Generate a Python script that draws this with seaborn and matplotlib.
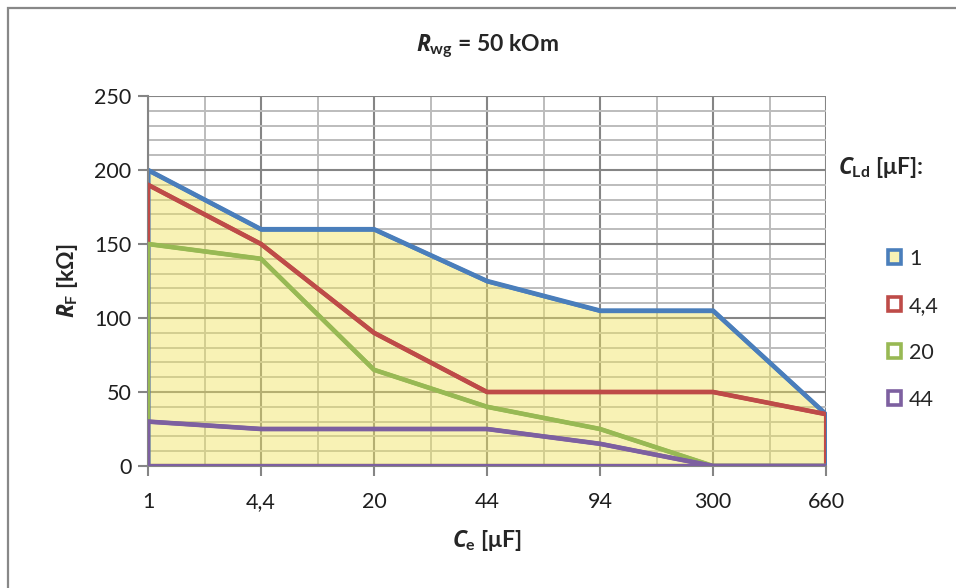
import numpy as np
import pandas as pd
import matplotlib
matplotlib.use("Agg")
import matplotlib.pyplot as plt
from matplotlib.patches import Patch, Rectangle
from matplotlib.ticker import MultipleLocator
import seaborn as sns

# Capacitance Ce [µF] categories on the x axis
ce_labels = ["1", "4,4", "20", "44", "94", "300", "660"]
# Filter resistance RF [kΩ] for each load capacitance CLd [µF]
rf_cld_1 = [200, 160, 160, 125, 105, 105, 35]
rf_cld_4_4 = [190, 150, 90, 50, 50, 50, 35]
rf_cld_20 = [150, 140, 65, 40, 25, 0, 0]
rf_cld_44 = [30, 25, 25, 25, 15, 0, 0]
series_names = ["1", "4,4", "20", "44"]
series_values = [rf_cld_1, rf_cld_4_4, rf_cld_20, rf_cld_44]

colors = ["#4A7EBB", "#BE4B48", "#98B954", "#7D60A0"]
area_face = (0.94, 0.89, 0.36, 0.45)

sns.set_theme(style="white")
plt.rcParams["font.family"] = ["Lato", "DejaVu Sans"]
plt.rcParams["mathtext.fontset"] = "custom"
plt.rcParams["mathtext.rm"] = "Lato:bold"
plt.rcParams["mathtext.it"] = "Open Sans:italic:bold"
plt.rcParams["mathtext.bf"] = "Lato:bold"

rows = []
for name, vals in zip(series_names, series_values):
    for i, v in enumerate(vals):
        rows.append({"pos": i, "Ce": ce_labels[i], "RF": v, "CLd": name})
df = pd.DataFrame(rows)

fig = plt.figure(figsize=(9.56, 5.88), dpi=100)
ax = fig.add_axes([148 / 956, 1 - 466 / 588, 678 / 956, 370 / 588])

# Gridlines: minor every 10 kΩ / between categories, major every 50 kΩ / at categories
ax.set_axisbelow(True)
ax.yaxis.set_major_locator(MultipleLocator(50))
ax.yaxis.set_minor_locator(MultipleLocator(10))
ax.xaxis.set_major_locator(MultipleLocator(1))
ax.xaxis.set_minor_locator(MultipleLocator(0.5))
ax.grid(which="minor", color="#BCBCBC", lw=1.4)
ax.grid(which="major", color="#858585", lw=1.5)

# Area outlines, first series filled, later series drawn on top
for k, (name, color) in enumerate(zip(series_names, colors)):
    sub = df[df["CLd"] == name]
    face = area_face if k == 0 else "none"
    ax.fill_between(sub["pos"], sub["RF"], 0, facecolor=face, edgecolor=color,
                    lw=3.0, zorder=2 + k)
    sns.lineplot(data=sub, x="pos", y="RF", color=color, lw=3.3, ax=ax,
                 zorder=2.5 + k, legend=False)

ax.set_xlim(0, len(ce_labels) - 1)
ax.set_ylim(0, 250)
ax.set_xticks(range(len(ce_labels)))
ax.set_xticklabels(ce_labels)
ax.tick_params(axis="both", which="major", labelsize=15.5, colors="#858585",
               labelcolor="#1E1E1E", length=7, width=1.5, direction="out")
ax.tick_params(axis="x", which="major", pad=12)
ax.tick_params(axis="y", which="major", pad=5)
ax.tick_params(which="minor", length=0)
ax.yaxis.set_ticks_position("left")
ax.xaxis.set_ticks_position("bottom")

for side in ["top", "right"]:
    ax.spines[side].set_visible(False)
ax.spines["left"].set_color("#858585")
ax.spines["left"].set_linewidth(1.5)
ax.spines["bottom"].set_color("#858585")
ax.spines["bottom"].set_linewidth(1.5)

ax.set_xlabel(r"$C_{\mathrm{e}}$ [μF]", fontsize=16.5, fontweight="bold", labelpad=11)
ax.set_ylabel(r"$R_{\mathrm{F}}$ [kΩ]", fontsize=16.5, fontweight="bold", labelpad=10)
fig.text(487 / 956, 1 - 47 / 588, r"$R_{\mathrm{wg}}$ = 50 kOm", fontsize=16.5,
         fontweight="bold", ha="center", va="center")

# Legend
handles = []
for k, color in enumerate(colors):
    face = area_face if k == 0 else "white"
    handles.append(Patch(facecolor=face, edgecolor=color, lw=2.6))
fig.text(838 / 956, 1 - 168 / 588, r"$C_{\mathrm{Ld}}$ [μF]:", fontsize=16.5,
         fontweight="bold", ha="left", va="center")
fig.legend(handles, series_names, loc="upper left",
           bbox_to_anchor=(888 / 956, 1 - 249 / 588), frameon=False,
           fontsize=15.5, handlelength=0.62, handleheight=0.62, handletextpad=0.35,
           labelspacing=1.25, borderpad=0, borderaxespad=0)

# Chart frame
fig.patches.append(Rectangle((8 / 956, -0.1), 1.2, 1.1 - 8 / 588,
                             transform=fig.transFigure, fill=False,
                             edgecolor="#888888", lw=1.6))

fig.savefig("out.png", dpi=100)
